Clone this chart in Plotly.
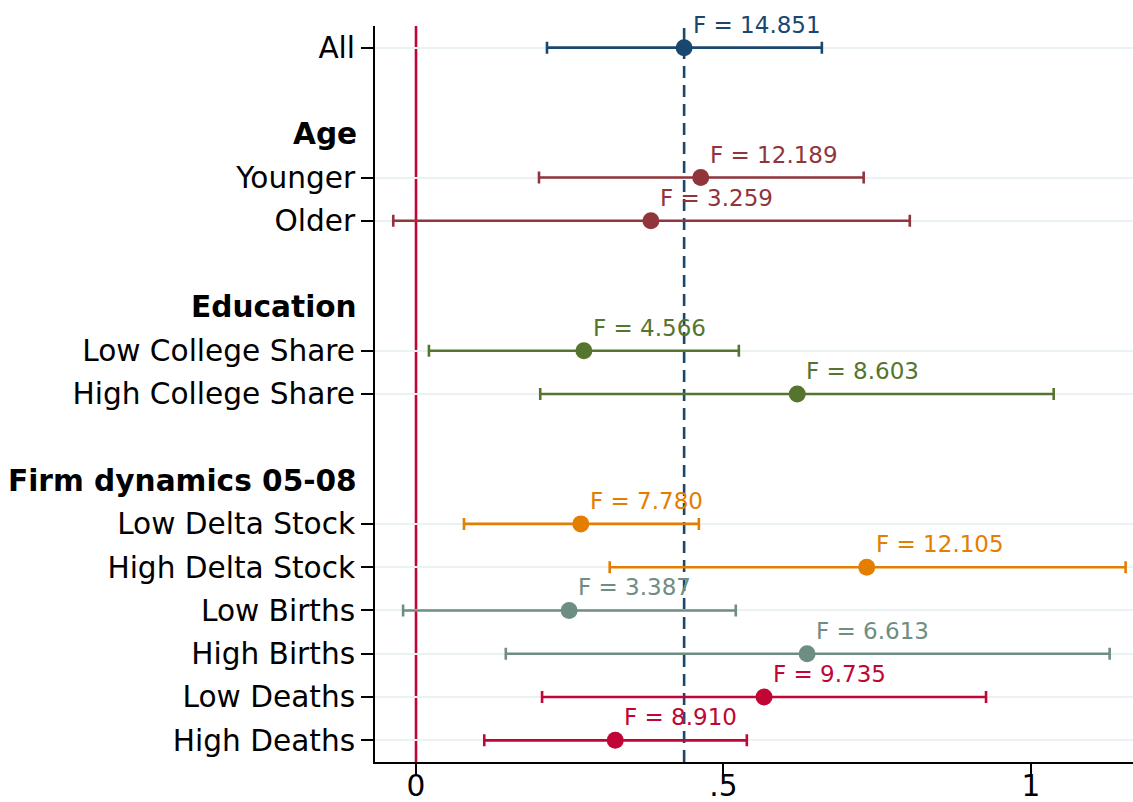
import plotly.graph_objects as go

# Row labels (top to bottom), their row positions and group colours
labels = ["All", "Younger", "Older", "Low College Share", "High College Share",
          "Low Delta Stock", "High Delta Stock", "Low Births", "High Births",
          "Low Deaths", "High Deaths"]
rows = [0, 3, 4, 7, 8, 11, 12, 13, 14, 15, 16]
headers = ["Age", "Education", "Firm dynamics 05-08"]
header_rows = [2, 6, 10]

# Point estimates and 95% confidence bounds
coef = [0.436, 0.463, 0.382, 0.273, 0.620, 0.268, 0.733, 0.249, 0.636, 0.566, 0.324]
ci_low = [0.213, 0.200, -0.037, 0.021, 0.202, 0.078, 0.315, -0.021, 0.146, 0.205, 0.111]
ci_high = [0.660, 0.728, 0.803, 0.525, 1.037, 0.460, 1.154, 0.520, 1.128, 0.927, 0.538]
f_stat = ["14.851", "12.189", "3.259", "4.566", "8.603", "7.780", "12.105",
          "3.387", "6.613", "9.735", "8.910"]

navy, maroon, green, orange, teal, cranberry = (
    "#1a476f", "#90353b", "#55752f", "#e37e00", "#6e8e84", "#c10534")
colors = [navy, maroon, maroon, green, green, orange, orange, teal, teal,
          cranberry, cranberry]

baseline = coef[0]
FONT = "DejaVu Sans"
LABEL_SIZE = 29.6

fig = go.Figure()

# Reference lines: zero effect and the pooled estimate
fig.add_vline(x=0, line=dict(color=cranberry, width=2.6), layer="below")
fig.add_vline(x=baseline, line=dict(color=navy, width=2.6, dash="12px,7px"),
              layer="below")

for i in range(len(labels)):
    fig.add_trace(go.Scatter(
        x=[coef[i]], y=[rows[i]], mode="markers",
        marker=dict(size=17, color=colors[i]),
        error_x=dict(type="data", symmetric=False,
                     array=[ci_high[i] - coef[i]],
                     arrayminus=[coef[i] - ci_low[i]],
                     color=colors[i], thickness=2.6, width=6),
        showlegend=False, hoverinfo="skip"))
    fig.add_annotation(
        x=coef[i], y=rows[i], text="F = " + f_stat[i], showarrow=False,
        xanchor="left", yanchor="bottom", xshift=7, yshift=8,
        font=dict(family=FONT, size=23, color=colors[i]))

for h, r in zip(headers, header_rows):
    fig.add_annotation(
        x=0, xref="paper", y=r, yref="y", text="<b>" + h + "</b>",
        showarrow=False, xanchor="right", yanchor="middle", xshift=-16,
        font=dict(family=FONT, size=LABEL_SIZE, color="black"))

fig.update_xaxes(
    range=[-0.0667, 1.166], tickvals=[0, 0.5, 1], ticktext=["0", ".5", "1"],
    showline=True, linecolor="black", linewidth=2,
    ticks="outside", ticklen=11, tickwidth=2, tickcolor="black",
    ticklabelstandoff=-15,
    showgrid=False, zeroline=False, automargin=False,
    tickfont=dict(family=FONT, size=LABEL_SIZE, color="black"))
fig.update_yaxes(
    range=[16.5, -0.5], tickvals=rows, ticktext=labels,
    showline=True, linecolor="black", linewidth=2,
    ticks="outside", ticklen=12, tickwidth=2, tickcolor="black",
    showgrid=True, gridcolor="#eaf2f3", gridwidth=2, zeroline=False,
    automargin=False,
    tickfont=dict(family=FONT, size=LABEL_SIZE, color="black"))

fig.update_layout(
    width=1133, height=802,
    margin=dict(l=375, r=0, t=26, b=40),
    plot_bgcolor="white", paper_bgcolor="white",
    font=dict(family=FONT))

fig.write_html("out.html")
